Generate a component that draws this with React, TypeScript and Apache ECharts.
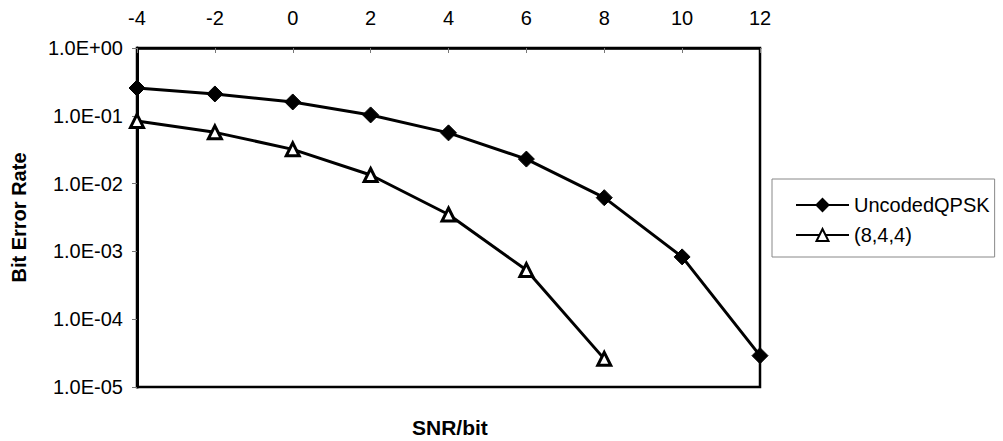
import React, { useEffect, useRef } from "react";
import * as echarts from "echarts";

const snr = [-4, -2, 0, 2, 4, 6, 8, 10, 12];
const uncodedQPSK = [0.257, 0.21, 0.16, 0.103, 0.056, 0.023, 0.0062, 0.00083, 0.000029];
const code844 = [0.084, 0.057, 0.032, 0.0134, 0.0035, 0.00053, 0.000026];
const xTicks = [-4, -2, 0, 2, 4, 6, 8, 10, 12];
const yTickLabels: Record<string, string> = {
  "0": "1.0E+00",
  "-1": "1.0E-01",
  "-2": "1.0E-02",
  "-3": "1.0E-03",
  "-4": "1.0E-04",
  "-5": "1.0E-05",
};
const seriesNames = ["UncodedQPSK", "(8,4,4)"];

const FONT = "'Liberation Sans', Arial, sans-serif";

export default function App() {
  const ref = useRef<HTMLDivElement>(null);
  useEffect(() => {
    document.body.style.margin = "0";
    const chart = echarts.init(ref.current!, null, { renderer: "svg" });
    const legendText = { color: "#000", fontSize: 20, fontFamily: FONT };
    chart.setOption({
      animation: false,
      backgroundColor: "#fff",
      textStyle: { fontFamily: FONT },
      grid: {
        left: 137,
        top: 48,
        width: 623,
        height: 339,
        show: true,
        borderColor: "#000",
        borderWidth: 2.5,
        backgroundColor: "#fff",
      },
      xAxis: {
        type: "value",
        position: "top",
        min: xTicks[0],
        max: xTicks[xTicks.length - 1],
        interval: 2,
        axisLine: { show: true, onZero: false, lineStyle: { color: "#000", width: 2.5 } },
        axisTick: { show: true, inside: true, length: 5, lineStyle: { color: "#777", width: 1 } },
        axisLabel: { color: "#000", fontSize: 20, margin: 20, fontFamily: FONT },
        splitLine: { show: false },
      },
      yAxis: {
        type: "log",
        logBase: 10,
        min: 1e-5,
        max: 1,
        axisLine: { show: true, onZero: false, lineStyle: { color: "#000", width: 3 } },
        axisTick: { show: true, length: 5, lineStyle: { color: "#777", width: 1 } },
        axisLabel: {
          color: "#000",
          fontSize: 20,
          margin: 14,
          fontFamily: FONT,
          formatter: (v: number) => yTickLabels[String(Math.round(Math.log10(v)))] ?? "",
        },
        splitLine: { show: false },
        name: "Bit Error Rate",
        nameLocation: "middle",
        nameRotate: 90,
        nameGap: 108,
        nameTextStyle: { color: "#000", fontSize: 20, fontWeight: "bold", fontFamily: FONT },
      },
      legend: {
        orient: "vertical",
        left: 772,
        top: 179,
        padding: [16, 5, 12, 23],
        itemWidth: 53,
        itemHeight: 15,
        itemGap: 10,
        borderColor: "#888",
        borderWidth: 1,
        backgroundColor: "#fff",
        textStyle: legendText,
        data: seriesNames.map((name) => ({ name, textStyle: legendText })),
      },
      graphic: [
        {
          type: "text",
          left: 412,
          top: 417,
          style: { text: "SNR/bit", fill: "#000", font: `bold 21px ${FONT}` },
        },
      ],
      series: [
        {
          name: seriesNames[0],
          type: "line",
          data: uncodedQPSK.map((v, i) => [snr[i], v]),
          symbol: "diamond",
          symbolSize: 16,
          clip: false,
          lineStyle: { color: "#000", width: 3 },
          itemStyle: { color: "#000", borderColor: "#000", borderWidth: 1 },
        },
        {
          name: seriesNames[1],
          type: "line",
          data: code844.map((v, i) => [snr[i], v]),
          symbol: "triangle",
          symbolSize: 13,
          clip: false,
          lineStyle: { color: "#000", width: 3 },
          itemStyle: { color: "#fff", borderColor: "#000", borderWidth: 3 },
        },
      ],
    });
    return () => chart.dispose();
  }, []);
  return <div ref={ref} style={{ width: 1003, height: 441 }} />;
}
